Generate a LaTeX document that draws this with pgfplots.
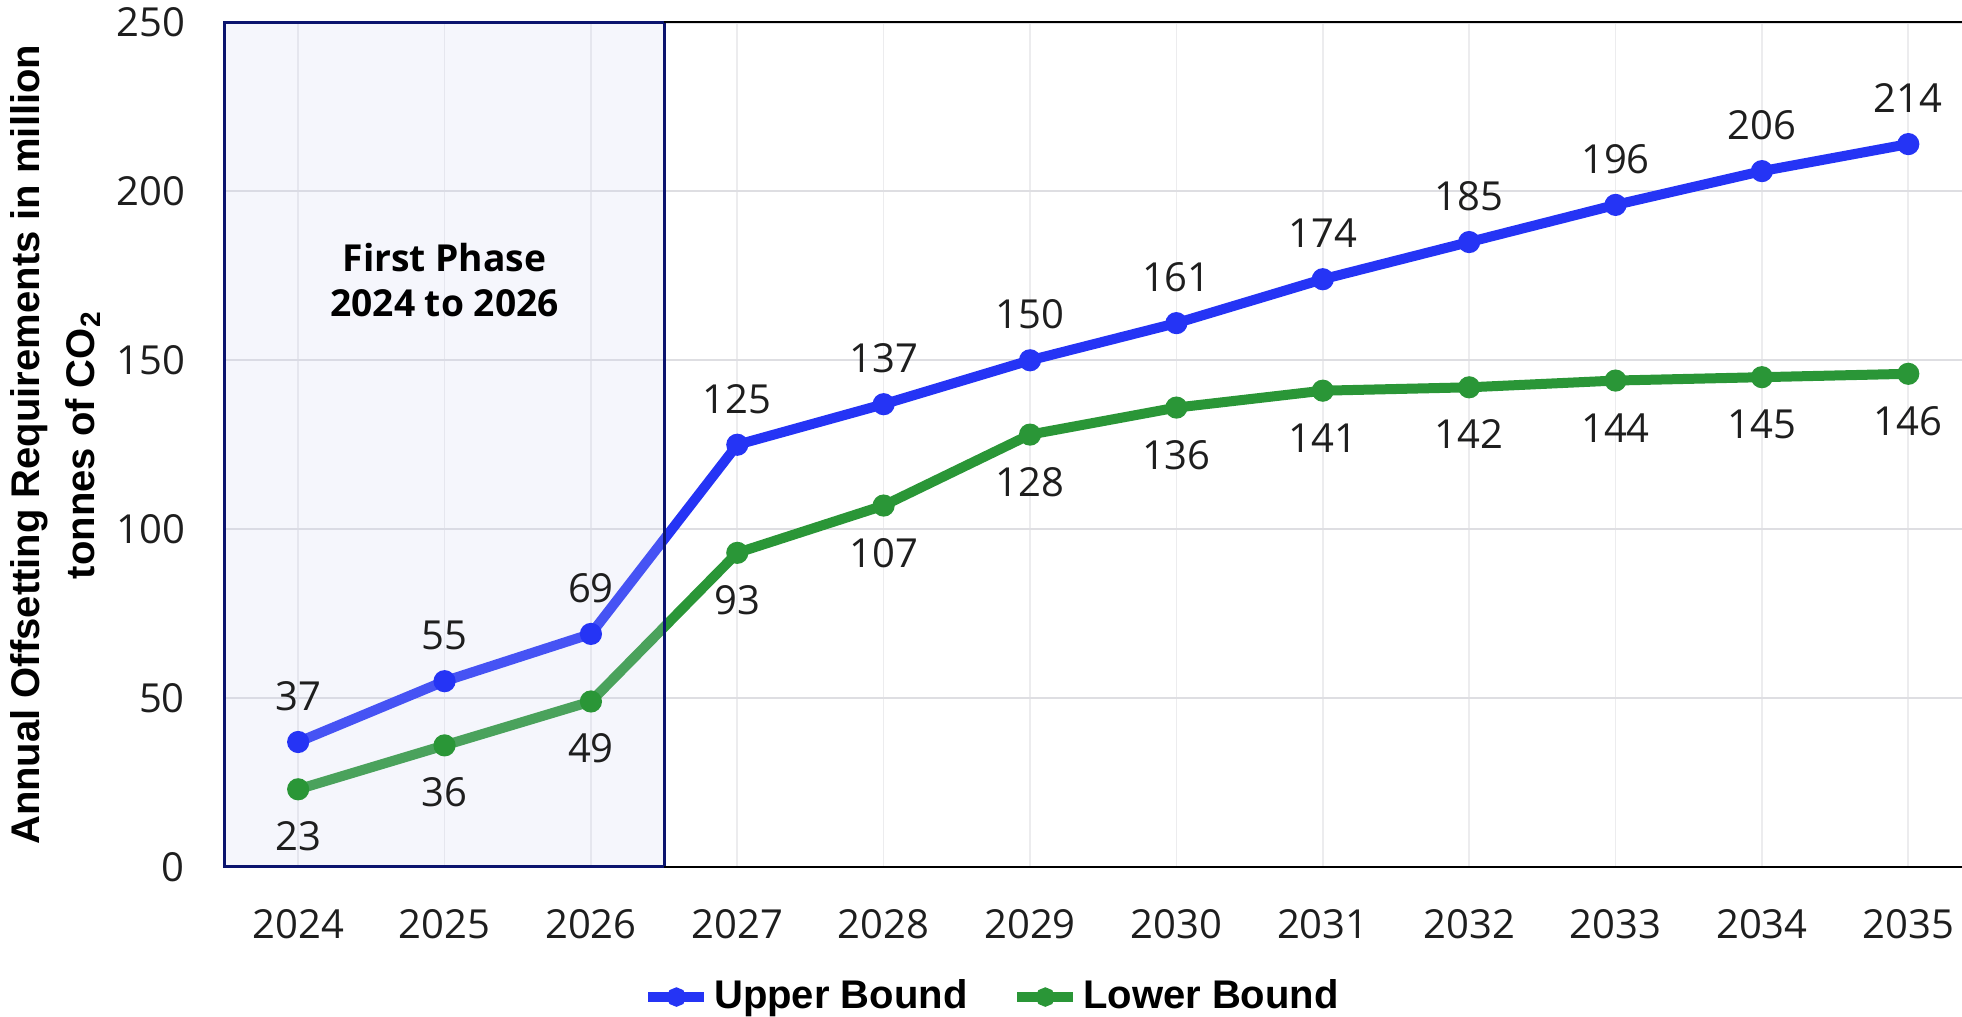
\documentclass[border=0pt]{standalone}
\usepackage{pgfplots}
\pgfplotsset{compat=1.18}
\usepackage{fontspec}
\setmainfont{Open Sans}
\newfontfamily\labfont{Liberation Sans}

\definecolor{upperblue}{RGB}{37,52,245}
\definecolor{lowergreen}{RGB}{42,150,55}
\definecolor{phasefill}{RGB}{205,210,240}
\definecolor{phaseedge}{RGB}{11,20,110}
\definecolor{valtext}{RGB}{30,30,30}

\begin{document}
\begin{tikzpicture}
\useasboundingbox (-56.25pt,-37.5pt) rectangle (434.25pt,216.75pt);
\begin{axis}[
  at={(0,0)}, anchor=south west,
  scale only axis,
  width=434.25pt, height=211.125pt,
  xmin=2023.5, xmax=2035.367,
  ymin=0, ymax=250,
  xtick={2024,2025,...,2035},
  minor x tick num=1,
  ytick={0,50,100,150,200,250},
  major tick length=0pt, minor tick length=0pt,
  axis line style={draw=none},
  grid=both,
  major x grid style={draw={rgb,255:red,236;green,236;blue,238}, line width=0.4pt},
  minor x grid style={draw={rgb,255:red,236;green,236;blue,238}, line width=0.4pt},
  major y grid style={draw={rgb,255:red,222;green,222;blue,226}, line width=0.55pt},
  /pgf/number format/assume math mode=true,
  xticklabel={\pgfmathprintnumber[1000 sep={}]{\tick}},
  ticklabel style={font=\fontsize{10}{12}\selectfont, text=valtext},
  xticklabel style={yshift=-7pt},
  yticklabel style={xshift=-6.5pt},
  clip=false,
  legend style={at={(0.4424,-0.154)}, anchor=center, draw=none, fill=none,
    font=\labfont\bfseries\fontsize{10}{12}\selectfont,
    /tikz/every even column/.append style={column sep=10pt},
    nodes={inner sep=1.2pt}},
  legend columns=2,
  legend image code/.code={
    \draw[#1, mark size=1.1pt] plot coordinates {(0pt,0pt) (7pt,0pt) (14pt,0pt)};
  },
  nodes near coords,
  every node near coord/.append style={font=\fontsize{10}{12}\selectfont, text=valtext, anchor=center},
]
% upper bound scenario
\addplot[upperblue, line width=2.5pt, mark=*, mark size=1.5pt,
  every node near coord/.append style={yshift=11.5pt},
  legend image post style={mark repeat=2, mark phase=2}]
  coordinates {
  (2024,37) (2025,55) (2026,69) (2027,125) (2028,137) (2029,150)
  (2030,161) (2031,174) (2032,185) (2033,196) (2034,206) (2035,214)};
\addlegendentry{Upper Bound}
% lower bound scenario
\addplot[lowergreen, line width=2.5pt, mark=*, mark size=1.5pt,
  every node near coord/.append style={yshift=-11.8pt},
  legend image post style={mark repeat=2, mark phase=2}]
  coordinates {
  (2024,23) (2025,36) (2026,49) (2027,93) (2028,107) (2029,128)
  (2030,136) (2031,141) (2032,142) (2033,144) (2034,145) (2035,146)};
\addlegendentry{Lower Bound}

% first phase window
\fill[phasefill, fill opacity=0.2] (axis cs:2023.5,0) rectangle (axis cs:2026.5,250);
\draw[phaseedge, line width=0.75pt] (axis cs:2023.5,0) rectangle (axis cs:2026.5,250);
\node[align=center, font=\bfseries\fontsize{9.3}{11.25}\selectfont, text=black]
  at (axis cs:2025,173.7) {First Phase\\2024 to 2026};

% top and bottom axis lines
\draw[black, line width=0.5pt] (axis cs:2026.5,250) -- (rel axis cs:1,1);
\draw[black, line width=0.5pt] (axis cs:2026.5,0) -- (rel axis cs:1,0);

% y axis title
\node[rotate=90, align=center, font=\labfont\bfseries\fontsize{10}{13.75}\selectfont]
  at (axis description cs:-0.0975,0.5)
  {Annual Offsetting Requirements in million\\tonnes of CO\textsubscript{2}};
\end{axis}
\end{tikzpicture}
\end{document}
